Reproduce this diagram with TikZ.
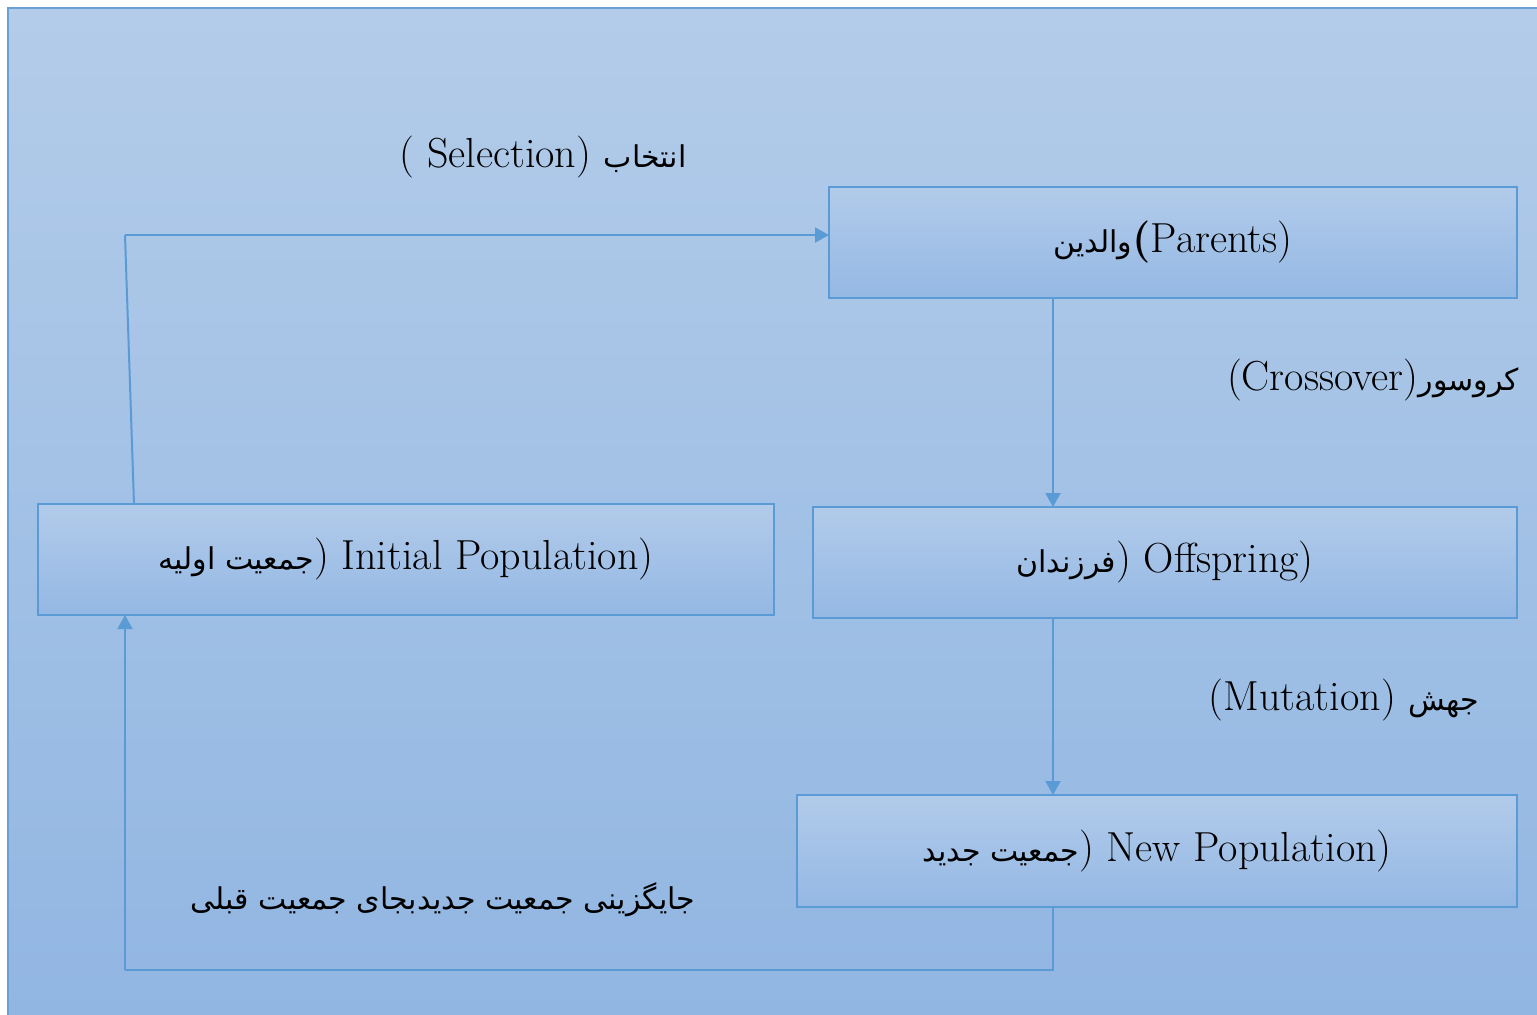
\documentclass[tikz,border=0pt]{standalone}
\usepackage{fontspec}
\usetikzlibrary{arrows.meta,calc}
\TeXXeTstate=1
\newfontfamily\arabicfont[Script=Arabic]{DejaVu Sans}
\newcommand{\fa}[1]{{\arabicfont\fontsize{15pt}{18pt}\selectfont\beginR #1\endR}}
\definecolor{bgtop}{HTML}{B3CCE9}
\definecolor{bgbot}{HTML}{91B6E2}
\definecolor{boxtop}{HTML}{B2CBEA}
\definecolor{boxbot}{HTML}{94B8E4}
\definecolor{edge}{HTML}{5B9BD5}
\definecolor{frame}{HTML}{6C9FD8}
\tikzset{
  stagebox/.style={draw=edge, line width=1pt, shading=axis, top color=boxtop,
    bottom color=boxbot, inner sep=0pt, outer sep=0pt, align=center,
    font=\fontsize{21pt}{25pt}\selectfont},
  flow/.style={draw=edge, line width=1pt,
    -{Triangle[length=7pt,width=7.5pt]}},
  plainline/.style={draw=edge, line width=1pt},
  caption/.style={inner sep=0pt, font=\fontsize{21pt}{25pt}\selectfont},
}
\begin{document}
\begin{tikzpicture}[x=0.5pt, y=-0.5pt]
  \useasboundingbox (0,0) rectangle (1537,1014);
  % background panel
  \begin{scope}
    \clip (0,0) rectangle (1537,1014);
    \shade[top color=bgtop, bottom color=bgbot] (8,8) rectangle (1545,1022);
    \draw[frame, line width=1pt] (8,1022) -- (8,8) -- (1545,8);
  \end{scope}

  % stages
  \node[stagebox, minimum width=344pt, minimum height=55.5pt] (par) at (1173,242.5)
    {\fa{والدین}\textbf{(}Parents)};
  \node[stagebox, minimum width=352pt, minimum height=55.5pt] (off) at (1165,562.5)
    {\fa{فرزندان}) Offspring)};
  \node[stagebox, minimum width=368pt, minimum height=55.5pt] (init) at (406,559.5)
    {\fa{جمعیت اولیه}) Initial Population)};
  \node[stagebox, minimum width=360pt, minimum height=56pt] (new) at (1157,851)
    {\fa{جمعیت جدید}) New Population)};

  % operator labels
  \node[caption] (lsel) at (543,157) {( Selection) \fa{انتخاب}};
  \node[caption] (lcross) at (1373,380) {(Crossover)\fa{کروسور}};
  \node[caption] (lmut) at (1344,700) {(Mutation) \fa{جهش}};
  \node[caption] (lrep) at (443,900) {\fa{جایگزینی جمعیت جدیدبجای جمعیت قبلی}};

  % routing points
  \coordinate (vx) at (1053,0);
  \coordinate (selbase) at (134,0);
  \coordinate (selcorner) at (125,235);
  \coordinate (retright) at (1053,970);
  \coordinate (retleft) at (125,970);

  % connectors
  \draw[plainline] (init.north -| selbase) -- (selcorner);
  \draw[flow] (selcorner) -- ($(par.west)+(0,-7.5)$);
  \draw[flow] (par.south -| vx) -- (off.north -| vx);
  \draw[flow] (off.south -| vx) -- (new.north -| vx);
  \draw[plainline] (new.south -| vx) -- (retright) -- (retleft);
  \draw[flow] (retleft) -- (init.south -| retleft);
\end{tikzpicture}
\end{document}
